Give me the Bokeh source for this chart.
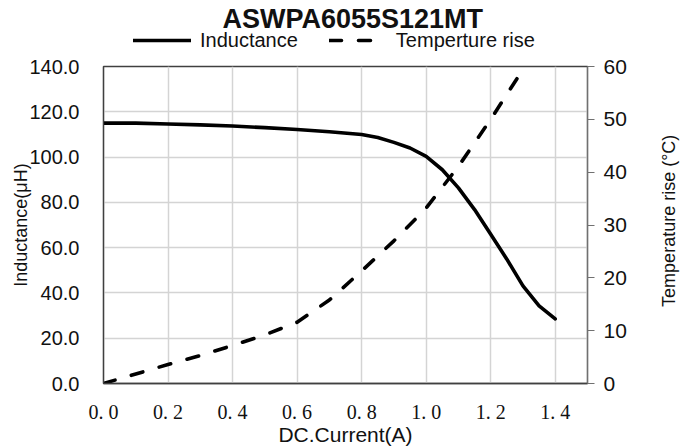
import math
import json
from bokeh.plotting import figure
from bokeh.layouts import column
from bokeh.models import (Range1d, LinearAxis, FixedTicker, CustomJSTickFormatter,
                          PrintfTickFormatter, Legend, LegendItem, Label)
from bokeh.embed import file_html
from bokeh.resources import INLINE

title_text = "ASWPA6055S121MT"
x_label = "DC.Current(A)"
y_label_left = "Inductance(μH)"
y_label_right = "Temperature rise (°C)"
series_names = ["Inductance", "Temperture rise"]

current_L = [0.0, 0.1, 0.2, 0.3, 0.4, 0.5, 0.6, 0.7, 0.8, 0.85, 0.9, 0.95,
             1.0, 1.05, 1.1, 1.15, 1.2, 1.25, 1.3, 1.35, 1.4]
inductance = [115.0, 115.0, 114.6, 114.2, 113.7, 113.0, 112.2, 111.2, 110.0, 108.6, 106.5, 104.0,
              100.3, 94.4, 86.4, 76.8, 65.9, 54.9, 43.1, 34.3, 28.5]

current_T = [0.0, 0.1, 0.2, 0.3, 0.4, 0.5, 0.6, 0.7, 0.8, 0.9, 1.0, 1.1, 1.2, 1.29]
temperature = [0.0, 1.8, 3.6, 5.3, 7.2, 9.2, 11.6, 15.8, 21.3, 27.0, 33.2, 41.1, 50.0, 58.5]

x_ticks = [0.0, 0.2, 0.4, 0.6, 0.8, 1.0, 1.2, 1.4]
left_ticks = [0, 20, 40, 60, 80, 100, 120, 140]
right_ticks = [0, 10, 20, 30, 40, 50, 60]

FONT = "Liberation Sans"
TXT = "#111111"
SOLID = dict(line_color="black", line_width=3.6, line_cap="round", line_join="round")
DASHED = dict(line_color="black", line_width=3.6, line_cap="round", line_dash="12 17")

HEAD_H = 54
RIGHT_TITLE_START = 14.5   # where the rotated right-axis title begins (temperature units)

# ---------------- header: title + legend (frame is aligned with the chart frame) ----------------
# x range lies far right of the data, so the series themselves stay out of view here;
# they only feed the legend swatches.
head = figure(width=694, height=HEAD_H, x_range=Range1d(100, 794), y_range=Range1d(0, HEAD_H),
              output_backend="svg", toolbar_location=None, x_axis_type=None, y_axis_type=None,
              min_border=0)
head.outline_line_color = None
head.background_fill_color = "white"
head.border_fill_color = "white"
h1 = head.line(current_L, inductance, **SOLID)
h2 = head.line(current_T, temperature, **DASHED)

legend = Legend(items=[LegendItem(label=series_names[0], renderers=[h1]),
                       LegendItem(label=series_names[1], renderers=[h2])],
                orientation="horizontal", location=(30, 2.5))
legend.glyph_width = 58
legend.glyph_height = 22
legend.label_height = 22
legend.label_standoff = 9
legend.spacing = 31
legend.padding = 0
legend.margin = 0
legend.border_line_color = None
legend.background_fill_alpha = 0
legend.label_text_font = FONT
legend.label_text_font_size = "20px"
legend.label_text_color = TXT
head.add_layout(legend)

head.add_layout(Label(x=119, y=35.6, x_units="screen", y_units="screen",
                      text=title_text, text_align="left", text_baseline="alphabetic",
                      text_font=FONT, text_font_size="27px", text_font_style="bold",
                      text_color=TXT))

# ---------------- main chart ----------------
p = figure(width=694, height=448 - HEAD_H, x_range=Range1d(0, 1.5), y_range=Range1d(0, 140),
           output_backend="svg", toolbar_location=None,
           min_border_left=103, min_border_right=107, min_border_top=12, min_border_bottom=63)
p.extra_y_ranges = {"temp": Range1d(0, 60)}
p.background_fill_color = "white"
p.border_fill_color = "white"
p.outline_line_color = "#404040"
p.outline_line_width = 1.3

# grids
p.xgrid.ticker = FixedTicker(ticks=x_ticks)
p.ygrid.ticker = FixedTicker(ticks=left_ticks)
for g in (p.xgrid, p.ygrid):
    g.grid_line_color = "#d4d4d4"
    g.grid_line_width = 1.5

# bottom axis
xa = p.xaxis[0]
xa.ticker = FixedTicker(ticks=x_ticks)
xa.formatter = CustomJSTickFormatter(code="return tick.toFixed(1).replace('.', '. ');")
xa.major_tick_out = 0
xa.major_tick_in = 0
xa.minor_tick_out = 0
xa.minor_tick_in = 0
xa.axis_line_color = "#404040"
xa.axis_line_width = 1.3
xa.major_label_text_font = "Liberation Serif"
xa.major_label_text_font_size = "20px"
xa.major_label_text_color = TXT
xa.major_label_standoff = 17
xa.axis_label = x_label
xa.axis_label_text_font = FONT
xa.axis_label_text_font_size = "21px"
xa.axis_label_text_font_style = "normal"
xa.axis_label_text_color = TXT
xa.axis_label_standoff = -3

# left axis
ya = p.yaxis[0]
ya.ticker = FixedTicker(ticks=left_ticks)
ya.formatter = PrintfTickFormatter(format="%.1f")
ya.major_tick_out = 0
ya.major_tick_in = 0
ya.minor_tick_out = 0
ya.minor_tick_in = 0
ya.axis_line_color = "#404040"
ya.axis_line_width = 1.3
ya.major_label_text_font = FONT
ya.major_label_text_font_size = "20px"
ya.major_label_text_color = TXT
ya.major_label_standoff = 24
ya.axis_label = y_label_left
ya.axis_label_text_font = FONT
ya.axis_label_text_font_size = "18px"
ya.axis_label_text_font_style = "normal"
ya.axis_label_text_color = TXT
ya.axis_label_standoff = -5

# right axis (ticks + numbers)
ra = LinearAxis(y_range_name="temp", ticker=FixedTicker(ticks=right_ticks))
ra.major_tick_out = 7
ra.major_tick_in = 0
ra.minor_tick_out = 0
ra.minor_tick_in = 0
ra.major_tick_line_color = "#707070"
ra.axis_line_color = "#707070"
ra.axis_line_width = 1.3
ra.major_label_text_font = FONT
ra.major_label_text_font_size = "21px"
ra.major_label_text_color = TXT
ra.major_label_standoff = 9
p.add_layout(ra, "right")

# right axis title, reading bottom-to-top: a bare axis whose single rotated label
# starts at RIGHT_TITLE_START and runs upwards
rt = LinearAxis(y_range_name="temp", ticker=FixedTicker(ticks=[RIGHT_TITLE_START]),
                formatter=CustomJSTickFormatter(code="return %s;" % json.dumps(y_label_right)))
rt.axis_line_color = None
rt.major_tick_line_color = None
rt.minor_tick_line_color = None
rt.major_tick_out = 0
rt.major_tick_in = 0
rt.minor_tick_out = 0
rt.minor_tick_in = 0
rt.major_label_orientation = math.pi / 2
rt.major_label_standoff = 40
rt.major_label_text_font = FONT
rt.major_label_text_font_size = "18px"
rt.major_label_text_color = TXT
p.add_layout(rt, "right")

r1 = p.line(current_L, inductance, **SOLID)
r2 = p.line(current_T, temperature, y_range_name="temp", **DASHED)

layout = column(head, p, spacing=0)
open("out.html", "w").write(file_html(layout, INLINE))
